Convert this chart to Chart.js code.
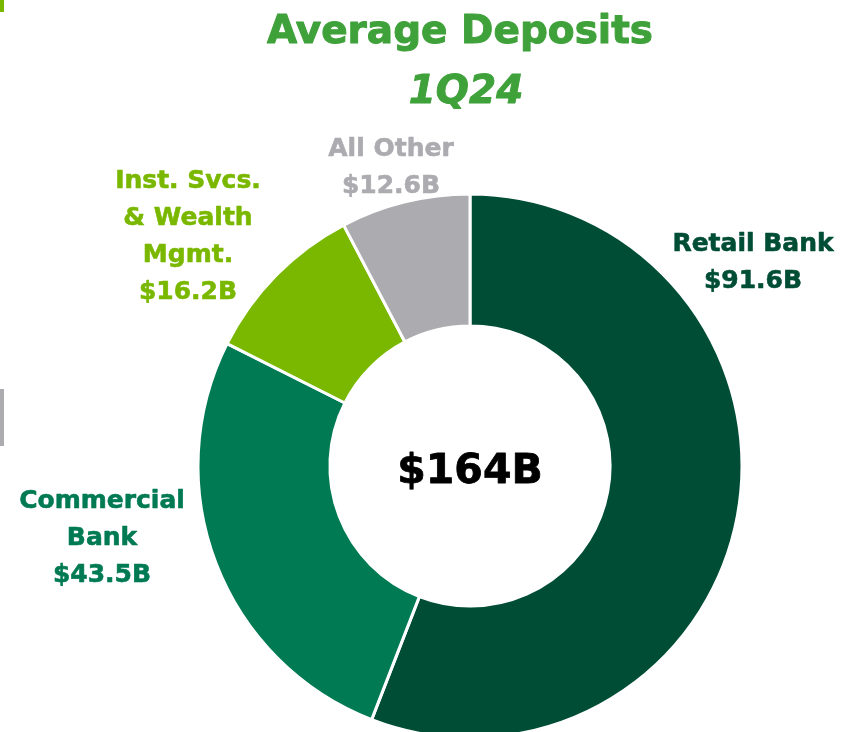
<!DOCTYPE html>
<html lang="en">
<head>
<meta charset="UTF-8">
<title>Average Deposits 1Q24</title>
<script src="https://cdn.jsdelivr.net/npm/chart.js"></script>
<style>
  html, body { margin: 0; padding: 0; background: #fff; }
  #wrap { position: relative; width: 841px; height: 732px; overflow: hidden; }
  .mark { position: absolute; left: 0; width: 4px; }
</style>
</head>
<body>
<div id="wrap">
  <canvas id="dona" width="841" height="732"></canvas>
  <div class="mark" style="top:0;height:12px;background:#7ab800"></div>
  <div class="mark" style="top:389px;height:57px;background:#acabb0"></div>
</div>
<script>
// data
const segments = ['Retail Bank', 'Commercial Bank', 'Inst. Svcs. & Wealth Mgmt.', 'All Other'];
const labelNames = [['Retail Bank'], ['Commercial', 'Bank'], ['Inst. Svcs.', '& Wealth', 'Mgmt.'], ['All Other']];
const deposits = [91.6, 43.5, 16.2, 12.6];
const totalText = '$164B';
const title = 'Average Deposits';
const subtitle = '1Q24';

const colors = ['#004d36', '#007a53', '#7ab800', '#acabb0'];
// where each outside label sits (center x, first baseline)
const labelPos = [[753, 251], [102, 508], [188, 188], [391, 156]];
const lineH = 37;
const FONT = '"DejaVu Sans", sans-serif';

// slightly heavier text: fill + thin stroke in same colour
function heavy(c, t, x, y, w) {
  c.lineWidth = w;
  c.lineJoin = 'round';
  c.strokeText(t, x, y);
  c.fillText(t, x, y);
}

const textPlugin = {
  id: 'texts',
  afterDraw(chart) {
    const c = chart.ctx;
    c.save();
    c.textAlign = 'center';
    c.textBaseline = 'alphabetic';

    c.fillStyle = c.strokeStyle = '#3fa13a';
    c.font = 'bold 39px ' + FONT;
    heavy(c, title, 460, 43, 1);
    c.font = 'italic bold 39px ' + FONT;
    heavy(c, subtitle, 466, 103, 1);

    const arc = chart.getDatasetMeta(0).data[0];
    c.fillStyle = c.strokeStyle = '#000';
    c.font = 'bold 41px ' + FONT;
    heavy(c, totalText, arc.x, arc.y + 17, 0.8);

    c.font = 'bold 25px ' + FONT;
    deposits.forEach((v, i) => {
      const lines = labelNames[i].concat(['$' + v.toFixed(1) + 'B']);
      c.fillStyle = c.strokeStyle = colors[i];
      lines.forEach((t, j) => {
        heavy(c, t, labelPos[i][0], labelPos[i][1] + j * lineH, 0.6);
      });
    });
    c.restore();
  }
};

new Chart(document.getElementById('dona'), {
  type: 'doughnut',
  data: {
    labels: segments,
    datasets: [{
      data: deposits,
      backgroundColor: colors,
      borderColor: '#ffffff',
      borderWidth: 3,
      clip: false
    }]
  },
  options: {
    responsive: false,
    animation: false,
    radius: 272,
    cutout: '51.5%',
    layout: { padding: { left: 99, right: 0, top: 200, bottom: 0 } },
    plugins: {
      legend: { display: false },
      tooltip: { enabled: false }
    }
  },
  plugins: [textPlugin]
});
</script>
</body>
</html>
